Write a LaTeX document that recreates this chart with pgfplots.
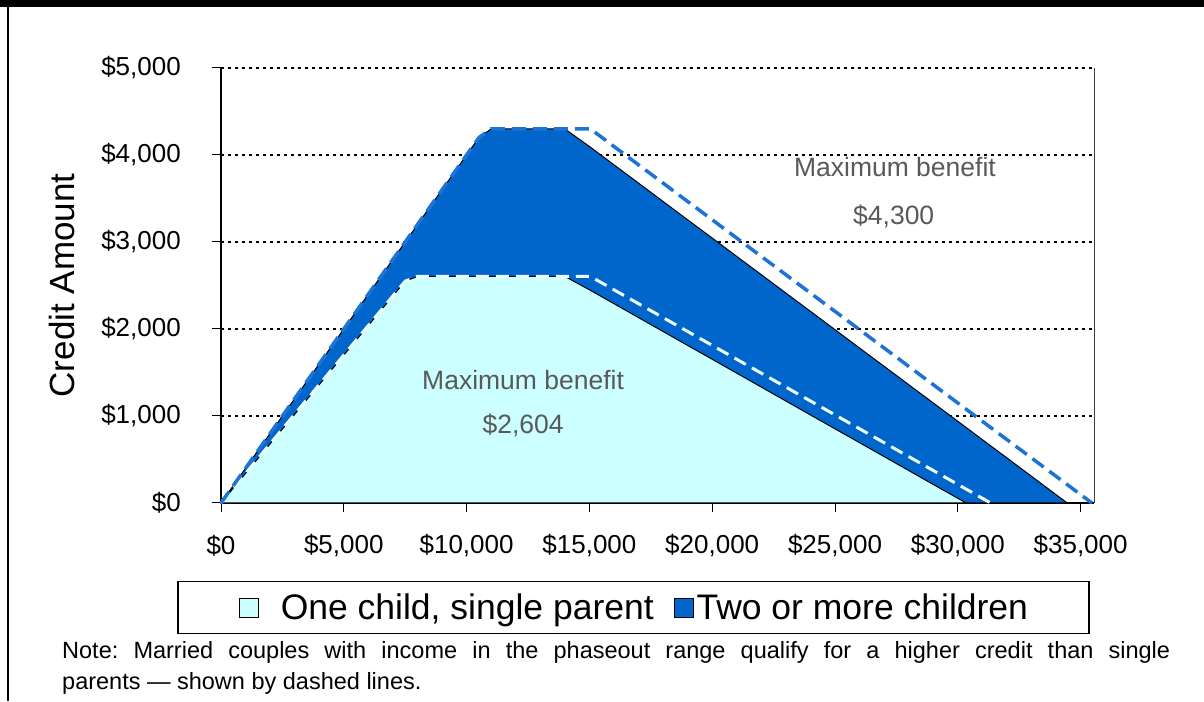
\documentclass[border=0pt]{standalone}
\usepackage{fontspec}
\setmainfont{Liberation Sans}
\usepackage{pgfplots}
\pgfplotsset{compat=1.18}
\definecolor{cyanfill}{HTML}{CCFFFF}
\definecolor{bluefill}{HTML}{0066CC}
\definecolor{bluedash}{HTML}{1E73D6}
\definecolor{lightdash}{HTML}{EDFFFF}
\definecolor{annot}{HTML}{595959}
\frenchspacing
\begin{document}
\begin{tikzpicture}
\path[use as bounding box] (0pt,0pt) rectangle (1204pt,701pt);
\fill[black] (0pt,694pt) rectangle (1204pt,701pt);
\fill[black] (7pt,0pt) rectangle (9.3pt,694pt);
\begin{axis}[
  at={(221pt,198pt)}, anchor=south west,
  scale only axis, width=873pt, height=435pt,
  xmin=0, xmax=35545, ymin=0, ymax=5000,
  clip=false,
  axis x line*=bottom, axis y line*=left,
  axis line style={-, black, line width=1.5pt},
  tick align=outside, major tick length=9pt,
  every tick/.style={black, line width=1pt},
  xtick={0,5000,10000,15000,20000,25000,30000,35000},
  xticklabels={\$0,{\$5,000},{\$10,000},{\$15,000},{\$20,000},{\$25,000},{\$30,000},{\$35,000}},
  ytick={0,1000,2000,3000,4000,5000},
  yticklabels={\$0,{\$1,000},{\$2,000},{\$3,000},{\$4,000},{\$5,000}},
  ticklabel style={font=\fontsize{26}{30}\selectfont},
  yticklabel style={anchor=east, inner sep=0pt, xshift=-31pt},
  xticklabel style={anchor=center, inner sep=0pt, yshift=-34pt},
  ymajorgrids, grid style={black, line width=1.5pt, dash pattern=on 3pt off 4pt},
  ylabel={Credit Amount},
  ylabel style={at={(axis description cs:-0.1821,0.5)}, anchor=center, font=\fontsize{35}{40}\selectfont},
  legend columns=2,
  legend style={at={(axis description cs:0.4725,-0.2402)}, anchor=center, draw=black, line width=1.2pt,
    inner xsep=61pt, inner ysep=12.5pt, font=\fontsize{35.5}{40}\selectfont,
    nodes={inner sep=0pt},
    /tikz/every odd column/.append style={column sep=3pt},
    /tikz/every even column/.append style={column sep=20pt}},
  legend image code/.code={\draw[#1, line width=0.8pt] (0pt,-9.5pt) rectangle (19pt,9.5pt);},
]
\addlegendimage{fill=cyanfill, draw=black}
\addlegendentry{\hspace{19pt}One child, single parent}
\addlegendimage{fill=bluefill, draw=black}
\addlegendentry{Two or more children}

% Two or more children (single parent)
\addplot[forget plot, fill=bluefill, draw=black, line width=1pt] coordinates {
(0,0)(1000,400)(2000,800)(3000,1200)(4000,1600)(5000,2000)(6000,2400)(7000,2800)(8000,3200)(9000,3600)(10000,4000)(10500,4200)(11000,4300)(14000,4300)(15000,4098)(16000,3887)(17000,3677)(18000,3466)(19000,3255)(20000,3045)(21000,2834)(22000,2624)(23000,2413)(24000,2203)(25000,1992)(26000,1781)(27000,1571)(28000,1360)(29000,1150)(30000,939)(31000,728)(32000,518)(33000,307)(34000,96)(34458,0)
} \closedcycle;
% One child, single parent
\addplot[forget plot, fill=cyanfill, draw=black, line width=1pt] coordinates {
(0,0)(1000,340)(2000,680)(3000,1020)(4000,1360)(5000,1700)(6000,2040)(7000,2380)(7500,2550)(8000,2604)(14000,2604)(15000,2451)(16000,2291)(17000,2131)(18000,1971)(19000,1811)(20000,1652)(21000,1492)(22000,1332)(23000,1172)(24000,1012)(25000,852)(26000,693)(27000,533)(28000,373)(29000,213)(30000,54)(30338,0)
} \closedcycle;
% Married couples, one child (dashed)
\addplot[forget plot, lightdash, line width=3pt, dash pattern=on 13pt off 7pt] coordinates {
(0,0)(7500,2550)(8000,2604)(15040,2604)(31338,0)
};
% Married couples, two or more children (dashed)
\addplot[forget plot, bluedash, line width=3.5pt, dash pattern=on 14pt off 7pt] coordinates {
(0,0)(10500,4200)(11000,4300)(15040,4300)(35458,0)
};
\draw[black!75, line width=1pt] (axis cs:35545,0) -- (axis cs:35545,5000);
\node[annot, font=\fontsize{26.5}{30}\selectfont] at (axis cs:27440,3865) {Maximum benefit};
\node[annot, font=\fontsize{26.5}{30}\selectfont] at (axis cs:27390,3299) {\$4,300};
\node[annot, font=\fontsize{26.5}{30}\selectfont] at (axis cs:12300,1414) {Maximum benefit};
\node[annot, font=\fontsize{26.5}{30}\selectfont] at (axis cs:12300,897) {\$2,604};
\end{axis}
\node[anchor=base west, font=\fontsize{23.5}{28}\selectfont, inner sep=0pt] at (62pt,42pt) {\makebox[1108pt][s]{Note: Married couples with income in the phaseout range qualify for a higher credit than single}};
\node[anchor=base west, font=\fontsize{23.5}{28}\selectfont, inner sep=0pt] at (62pt,12pt) {parents --- shown by dashed lines.};
\end{tikzpicture}
\end{document}
